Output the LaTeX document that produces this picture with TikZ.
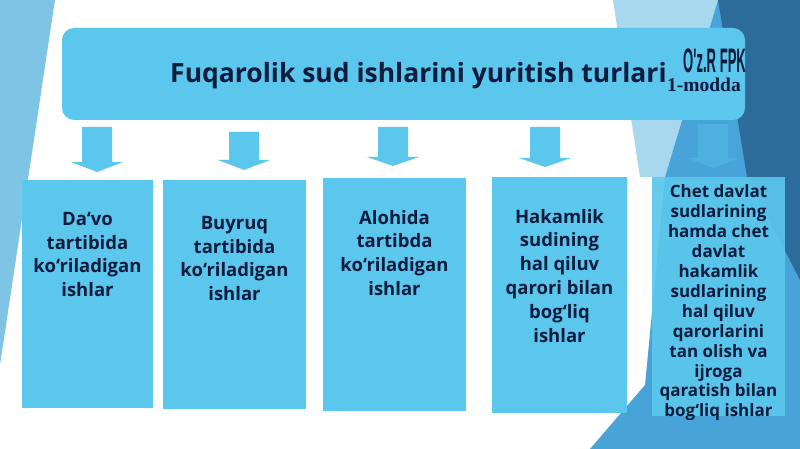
\documentclass[tikz,border=0pt]{standalone}
\usepackage{fontspec}
\setmainfont{Open Sans}
\newfontfamily\moddafont{Liberation Serif}
\newfontfamily\codexfont{Liberation Sans}
\usetikzlibrary{positioning}
\definecolor{skyblue}{RGB}{91,199,236}
\definecolor{inknavy}{RGB}{13,27,62}
\definecolor{paleblue}{RGB}{168,216,238}
\definecolor{sideblue}{RGB}{126,196,228}
\definecolor{midblue}{RGB}{72,164,216}
\definecolor{deepblue}{RGB}{45,107,155}
\tikzstyle{banner}=[fill=skyblue,rounded corners=12pt,minimum width=683pt,minimum height=92pt,inner sep=0pt]
\tikzstyle{casebox}=[fill=skyblue,inner sep=0pt]
\tikzstyle{casetext}=[inner sep=0pt,align=center,text=inknavy,font=\bfseries\fontsize{18.5}{23.8}\selectfont]
\tikzstyle{smalltext}=[inner sep=0pt,align=center,text=inknavy,font=\bfseries\fontsize{17}{19.9}\selectfont]
\tikzstyle{blockarrow}=[fill=skyblue]

\begin{document}
\begin{tikzpicture}[x=1pt,y=-1pt]
\useasboundingbox (0,0) rectangle (800,449);

% slide background
\fill[sideblue] (0,0) -- (55,0) -- (0,365) -- cycle;
\fill[paleblue] (613,0) -- (718,0) -- (665,177) -- (640,177) -- cycle;
\fill[midblue] (718,0) -- (800,0) -- (800,449) -- (590,449) -- (645,385) -- (665,177) -- cycle;
\fill[deepblue] (718,0) -- (800,0) -- (800,280) -- (747,177) -- cycle;

\node[banner] (banner) at (403.5,74) {};
\node[anchor=base west,text=inknavy,inner sep=0pt,font=\bfseries\fontsize{26.5}{30}\selectfont] (title) at (170,83) {Fuqarolik sud ishlarini yuritish turlari};
\node[anchor=base west,text=inknavy,inner sep=0pt,font=\moddafont\bfseries\fontsize{19.5}{22}\selectfont] (modda) at ([yshift=-8.5pt]title.base east) {1-modda};
\node[anchor=base west,text=inknavy,inner sep=0pt,font=\codexfont\bfseries\fontsize{34}{36}\selectfont] (codex) at (683,72.5) {\scalebox{0.385}[1]{O'z.R FPK}};

% arrows
\foreach \ax/\atop/\ahead/\atip in {97/127/162/172,244/132/160/170,393/127/157/166,545/127/158/167}
  \fill[blockarrow] (\ax-15,\atop) -- (\ax+15,\atop) -- (\ax+15,\ahead) -- (\ax+26,\ahead) -- (\ax,\atip) -- (\ax-26,\ahead) -- (\ax-15,\ahead) -- cycle;
\fill[blockarrow,fill opacity=0.35] (698,124) -- (728,124) -- (728,158) -- (739,158) -- (713,168) -- (687,158) -- (698,158) -- cycle;

\node[casebox,minimum width=131pt,minimum height=228pt] (box1) at (87.5,294) {};
\node[casebox,minimum width=143pt,minimum height=229pt] (box2) at (234.5,294.5) {};
\node[casebox,minimum width=143pt,minimum height=233pt] (box3) at (394.5,294.5) {};
\node[casebox,minimum width=135pt,minimum height=236pt] (box4) at (559.5,295) {};
\node[casebox,fill opacity=0.92,minimum width=133pt,minimum height=239pt] (box5) at (718.5,296.5) {};

\node[casetext,below=32pt of box1.north] (text1) {Da‘vo\\tartibida\\ko‘riladigan\\ishlar};
\node[casetext,below=36pt of box2.north] (text2) {Buyruq\\tartibida\\ko‘riladigan\\ishlar};
\node[casetext,below=32pt of box3.north] (text3) {Alohida\\tartibda\\ko‘riladigan\\ishlar};
\node[casetext,below=32pt of box4.north] (text4) {Hakamlik\\sudining\\hal qiluv\\qarori bilan\\bog‘liq\\ishlar};
\node[smalltext,below=8pt of box5.north] (text5) {Chet davlat\\sudlarining\\hamda chet\\davlat\\hakamlik\\sudlarining\\hal qiluv\\qarorlarini\\tan olish va\\ijroga\\qaratish bilan\\bog‘liq ishlar};

\end{tikzpicture}
\end{document}
